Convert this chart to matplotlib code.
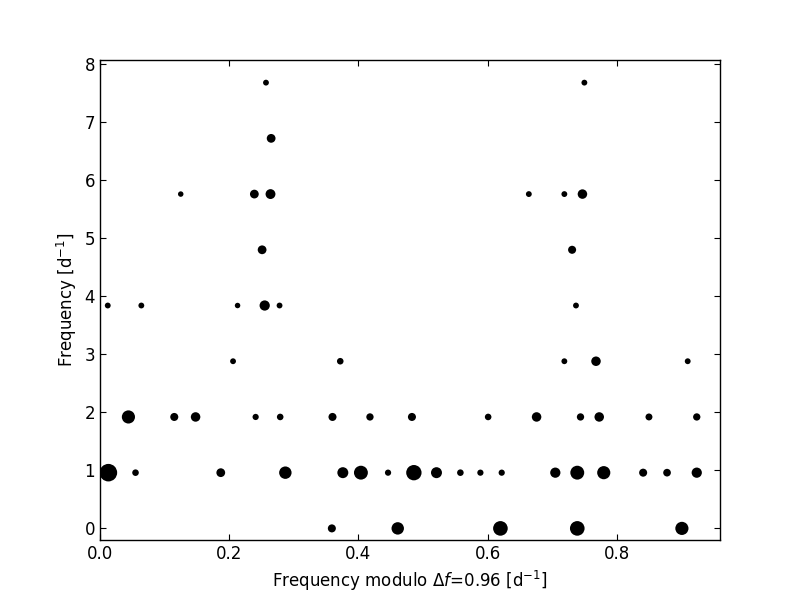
import numpy as np
import matplotlib
matplotlib.use('Agg')
import matplotlib.pyplot as plt

# echelle diagram: frequency modulo 0.96 vs order
df = 0.96

# order (row index k -> y = k*df)
order = [0, 0, 0, 0, 0,
         1, 1, 1, 1, 1, 1, 1, 1, 1, 1, 1, 1, 1, 1, 1, 1, 1, 1,
         2, 2, 2, 2, 2, 2, 2, 2, 2, 2, 2, 2, 2, 2,
         3, 3, 3, 3, 3,
         4, 4, 4, 4, 4, 4,
         5, 5,
         6, 6, 6, 6, 6, 6,
         7,
         8, 8]

fmod = [0.359, 0.461, 0.620, 0.739, 0.901,
        0.013, 0.055, 0.187, 0.287, 0.376, 0.404, 0.446, 0.486, 0.521, 0.558,
        0.589, 0.622, 0.705, 0.739, 0.780, 0.841, 0.878, 0.924,
        0.044, 0.115, 0.148, 0.241, 0.279, 0.360, 0.418, 0.483, 0.601, 0.676,
        0.744, 0.773, 0.850, 0.924,
        0.206, 0.372, 0.719, 0.768, 0.910,
        0.012, 0.064, 0.213, 0.255, 0.278, 0.737,
        0.251, 0.731,
        0.125, 0.239, 0.264, 0.664, 0.719, 0.747,
        0.265,
        0.257, 0.750]

# relative amplitude (drawn as marker diameter)
amp = [22, 34, 40, 40, 36,
       48, 18, 24, 34, 30, 38, 17, 42, 30, 18,
       17, 17, 28, 38, 36, 22, 21, 28,
       36, 22, 26, 17, 18, 22, 20, 22, 18, 26,
       20, 26, 19, 20,
       16, 18, 16, 26, 16,
       16, 16, 15, 28, 16, 16,
       24, 22,
       15, 24, 27, 16, 16, 26,
       24,
       16, 16]

freq = np.array(order) * df
diam = np.array(amp) / 3.8  # diameter in points

fig = plt.figure(figsize=(8, 6), dpi=100)
ax = fig.add_axes([0.125, 0.1, 0.775, 0.8])
ax.scatter(fmod, freq, s=diam**2, c='k', edgecolors='none')

ax.set_xlim(0, 0.96)
ax.set_ylim(-0.2, 8.07)
ax.set_xticks([0.0, 0.2, 0.4, 0.6, 0.8])
ax.set_yticks(range(0, 9))
ax.tick_params(direction='in', top=True, right=True, labelsize=12, length=4)
for s in ax.spines.values():
    s.set_linewidth(1.0)
ax.set_xlabel(r'Frequency modulo $\Delta f$=0.96 [d$^{-1}$]', fontsize=12)
ax.set_ylabel(r'Frequency [d$^{-1}$]', fontsize=12)

fig.savefig('out.png', dpi=100)
